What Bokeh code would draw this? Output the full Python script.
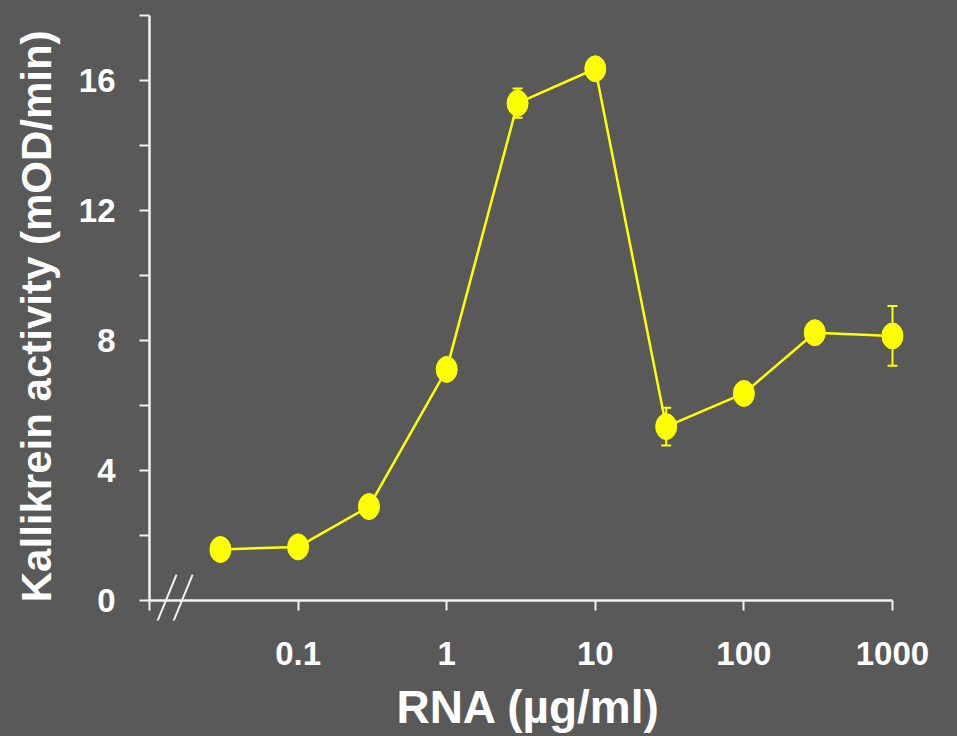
from bokeh.plotting import figure
from bokeh.models import (ColumnDataSource, FixedTicker, CustomJSTickFormatter,
                          Whisker, TeeHead, Range1d)
from bokeh.embed import file_html
from bokeh.resources import INLINE

# ---- data ----
rna_conc = [0.03, 0.1, 0.3, 1, 3, 10, 30, 100, 300, 1000]
activity = [1.57, 1.65, 2.89, 7.11, 15.3, 16.36, 5.35, 6.37, 8.24, 8.14]
error = [0.0, 0.0, 0.0, 0.0, 0.45, 0.0, 0.58, 0.0, 0.0, 0.92]

x_ticks = [0.1, 1, 10, 100, 1000]
x_tick_labels = ["0.1", "1", "10", "100", "1000"]
x_minor = [0.01]
x_axis_span = [0.01, 1000]
y_ticks = [0, 4, 8, 12, 16]
y_minor = [2, 6, 10, 14, 18]

# break marks on the x axis (data coords)
brk_x0 = [0.0110, 0.0141]
brk_x1 = [0.0152, 0.0195]
brk_y0 = [-0.77, -0.77]
brk_y1 = [0.80, 0.80]

BG = "#595959"
YEL = "#FFFF00"
AX = "#F2F2F2"
FONT = "Liberation Sans"

p = figure(width=957, height=736, x_axis_type="log",
           x_range=Range1d(0.01, 1262), y_range=Range1d(-0.615, 18.46),
           output_backend="svg", toolbar_location=None,
           min_border_left=149, min_border_right=50,
           min_border_top=0, min_border_bottom=116)
p.background_fill_color = BG
p.border_fill_color = BG
p.outline_line_color = None
p.grid.visible = False
p.styles = {"background-color": BG}

# x axis line at y = 0
p.line(x=x_axis_span, y=[0, 0], line_color=AX, line_width=2.5)
p.segment(x0=brk_x0, y0=brk_y0, x1=brk_x1, y1=brk_y1,
          line_color=AX, line_width=2)

src = ColumnDataSource(dict(x=rna_conc, y=activity))
p.line("x", "y", source=src, line_color=YEL, line_width=2.5)

ex = [x for x, e in zip(rna_conc, error) if e > 0]
ey = [y for y, e in zip(activity, error) if e > 0]
ee = [e for e in error if e > 0]
esrc = ColumnDataSource(dict(x=ex, up=[y + e for y, e in zip(ey, ee)],
                             lo=[y - e for y, e in zip(ey, ee)]))
w = Whisker(source=esrc, base="x", upper="up", lower="lo",
            line_color=YEL, line_width=2,
            upper_head=TeeHead(size=10, line_color=YEL, line_width=2),
            lower_head=TeeHead(size=10, line_color=YEL, line_width=2))
p.add_layout(w)

p.ellipse("x", "y", source=src, width=21, height=26,
          width_units="screen", height_units="screen",
          fill_color=YEL, line_color=YEL)

# x axis: sits at the frame bottom; ticks reach up to the y=0 level
xa = p.xaxis[0]
xa.bounds = (0.01, 1000)
xa.ticker = FixedTicker(ticks=x_ticks, minor_ticks=x_minor)
xa.formatter = CustomJSTickFormatter(
    args=dict(xt=x_ticks, xl=x_tick_labels),
    code="""
    for (let i = 0; i < xt.length; i++) {
        if (Math.abs(Math.log10(tick) - Math.log10(xt[i])) < 1e-6) return xl[i];
    }
    return '';
    """)
xa.axis_label = "RNA (µg/ml)"
xa.axis_line_color = None

# y axis
ya = p.yaxis[0]
ya.bounds = (0, 18)
ya.ticker = FixedTicker(ticks=y_ticks, minor_ticks=y_minor)
ya.axis_label = "Kallikrein  activity (mOD/min)"
ya.axis_line_color = AX
ya.axis_line_width = 2.5

for ax in (xa, ya):
    ax.major_tick_line_color = AX
    ax.minor_tick_line_color = AX
    ax.major_tick_line_width = 2
    ax.minor_tick_line_width = 2
    ax.major_label_text_color = "white"
    ax.major_label_text_font = FONT
    ax.major_label_text_font_style = "bold"
    ax.major_label_text_font_size = "33px"
    ax.axis_label_text_color = "white"
    ax.axis_label_text_font = FONT
    ax.axis_label_text_font_style = "bold"

ya.major_tick_in = 0
ya.major_tick_out = 10
ya.minor_tick_in = 0
ya.minor_tick_out = 10

# frame bottom is 20 px below y=0: ticks from y=0 down 10 px
xa.major_tick_in = 20
xa.major_tick_out = -10
xa.minor_tick_in = 20
xa.minor_tick_out = -10

xa.major_label_standoff = 31
xa.axis_label_standoff = 13
xa.axis_label_text_font_size = "46px"
ya.major_label_standoff = 24
ya.axis_label_standoff = 16
ya.axis_label_text_font_size = "42px"

open("out.html", "w").write(file_html(p, INLINE))
